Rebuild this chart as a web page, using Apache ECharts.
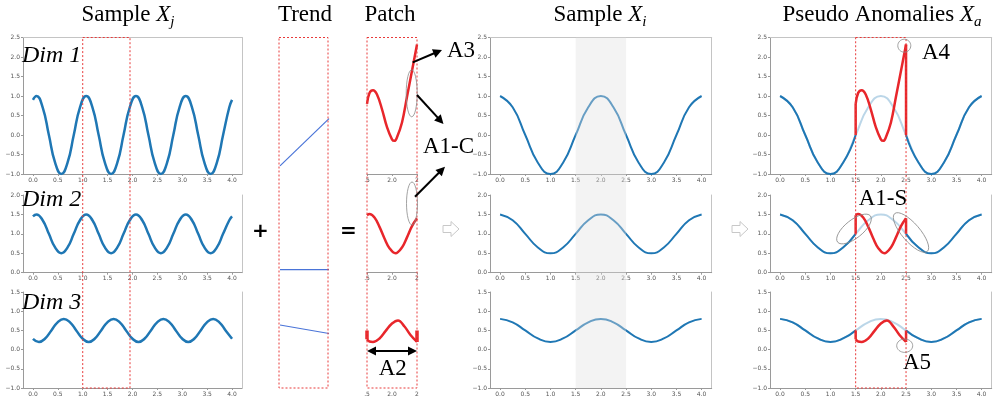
<!DOCTYPE html>
<html><head><meta charset="utf-8">
<script src="https://cdn.jsdelivr.net/npm/echarts@6/dist/echarts.min.js"></script>
<style>html,body{margin:0;padding:0;background:#fff}#c{width:997px;height:399px}</style>
</head><body><div id="c"></div>
<script>
// ---------------- data ----------------
const xTicks = [0, 0.5, 1, 1.5, 2, 2.5, 3, 3.5, 4];

// Sample X_j
const xjX = [0, 0.07, 0.195, 0.32, 0.445, 0.57, 0.695, 0.82, 0.945, 1.07, 1.195, 1.32, 1.445, 1.57, 1.695, 1.82, 1.945,
  2.07, 2.195, 2.32, 2.445, 2.57, 2.695, 2.82, 2.945, 3.07, 3.195, 3.32, 3.445, 3.57, 3.695, 3.82, 3.945, 4.0];
const xjDim1 = [0.9, 1, 0.71, 0, -0.71, -1, -0.71, 0, 0.71, 1, 0.71, 0, -0.71, -1, -0.71, 0, 0.71,
  1, 0.71, 0, -0.71, -1, -0.71, 0, 0.71, 1, 0.71, 0, -0.71, -1, -0.71, 0, 0.71, 0.9];
const xjDim2 = [1.45, 1.5, 1.35, 1.0, 0.65, 0.5, 0.65, 1.0, 1.35, 1.5, 1.35, 1.0, 0.65, 0.5, 0.65, 1.0, 1.35,
  1.5, 1.35, 1.0, 0.65, 0.5, 0.65, 1.0, 1.35, 1.5, 1.35, 1.0, 0.65, 0.5, 0.65, 1.0, 1.35, 1.45];
const xj3X = [0, 0.12, 0.245, 0.37, 0.495, 0.62, 0.745, 0.87, 0.995, 1.12, 1.245, 1.37, 1.495, 1.62, 1.745, 1.87, 1.995,
  2.12, 2.245, 2.37, 2.495, 2.62, 2.745, 2.87, 2.995, 3.12, 3.245, 3.37, 3.495, 3.62, 3.745, 3.87, 4.0];
const xjDim3 = [0.28, 0.2, 0.29, 0.5, 0.71, 0.8, 0.71, 0.5, 0.29, 0.2, 0.29, 0.5, 0.71, 0.8, 0.71, 0.5, 0.29,
  0.2, 0.29, 0.5, 0.71, 0.8, 0.71, 0.5, 0.29, 0.2, 0.29, 0.5, 0.71, 0.8, 0.71, 0.5, 0.28];

// Trend
const trendX = [0, 1];
const trendDim1 = [-0.79, 0.42];
const trendDim2 = [0.08, 0.08];
const trendDim3 = [0.64, 0.42];

// Sample X_i
const xiX = [0, 0.25, 0.5, 0.75, 1, 1.25, 1.5, 1.75, 2, 2.25, 2.5, 2.75, 3, 3.25, 3.5, 3.75, 4];
const xiDim1 = [1, 0.71, 0, -0.71, -1, -0.71, 0, 0.71, 1, 0.71, 0, -0.71, -1, -0.71, 0, 0.71, 1];
const xiDim2 = [1.5, 1.35, 1, 0.65, 0.5, 0.65, 1, 1.35, 1.5, 1.35, 1, 0.65, 0.5, 0.65, 1, 1.35, 1.5];
const xiDim3 = [0.8, 0.71, 0.5, 0.29, 0.2, 0.29, 0.5, 0.71, 0.8, 0.71, 0.5, 0.29, 0.2, 0.29, 0.5, 0.71, 0.8];
const shadeRange = [1.5, 2.5];

// Patch / pseudo anomalies (window 1.5 .. 2.5)
const anomX1 = [1.5, 1.55, 1.62, 1.7, 1.8, 1.9, 2.0, 2.05, 2.1, 2.2, 2.3, 2.4, 2.5];
const anomDim1 = [0.8, 1.08, 1.15, 1.04, 0.66, 0.2, -0.11, -0.15, -0.06, 0.32, 0.98, 1.65, 2.32];
const anomX2 = [1.5, 1.55, 1.65, 1.75, 1.85, 1.95, 2.07, 2.2, 2.3, 2.4, 2.5];
const anomDim2 = [1.48, 1.51, 1.42, 1.18, 0.88, 0.63, 0.5, 0.65, 0.91, 1.2, 1.4];
const anomX3 = [1.5, 1.55, 1.62, 1.75, 1.87, 2.0, 2.12, 2.25, 2.37, 2.5];
const anomDim3 = [0.27, 0.21, 0.2, 0.29, 0.48, 0.68, 0.76, 0.6, 0.38, 0.2];
const anomEdgeX = [1.5, 2.5];
const anomDim1Edge = [[0, 0.8], [2.32, 0]];
const anomDim2Edge = [[1.0, 1.48], [1.4, 1.0]];
const anomDim3Edge = [[0.5, 0.27], [0.2, 0.5]];
const sourceWindow = [1.0, 1.95];

// ---------------- layout ----------------
const panels = [
  {key: 'J', left: 23, right: 242, x: [-0.2, 4.2]},
  {key: 'T', left: 280, right: 329, x: [0, 1]},
  {key: 'P', left: 367, right: 417, x: [1.5, 2.5]},
  {key: 'I', left: 490, right: 711.7, x: [-0.2, 4.2]},
  {key: 'A', left: 770, right: 991.7, x: [-0.2, 4.2]}
];
const rows = [
  {top: 37.5, bottom: 174, y: [-1, 2.5]},
  {top: 195, bottom: 272.7, y: [0, 2]},
  {top: 292, bottom: 388, y: [-1, 1.5]}
];
const BLUE = '#1f77b4', LIGHT = 'rgba(31,119,180,0.3)', RED = '#e8262b', TBLUE = '#4a74d8';
const SPINE = '#9a9a9a';
const fmt = v => (v < 0 ? '\u2212' : '') + Math.abs(v).toFixed(1);
const patchFmt = v => v === 1.5 ? '.5' : (v === 2 ? '2.0' : '2');
const zip = (xs, ys) => xs.map((x, i) => [x, ys[i]]);

const grid = [], xAxis = [], yAxis = [], series = [];
const extraX = [], extraY = [];
panels.forEach((p, pi) => {
  rows.forEach((r, ri) => {
    const g = pi * 3 + ri;
    grid.push({left: p.left, top: r.top, width: p.right - p.left, height: r.bottom - r.top, outerBoundsMode: 'none', containLabel: false});
    const main = (p.key === 'J' || p.key === 'I' || p.key === 'A');
    if (main) {
      xAxis.push({gridIndex: g, type: 'value', min: p.x[0], max: p.x[1],
        axisLine: {show: true, onZero: false, lineStyle: {color: SPINE, width: 1}},
        axisTick: {show: true, length: 2, customValues: xTicks, lineStyle: {color: SPINE}},
        axisLabel: {show: true, customValues: xTicks, fontSize: 6, color: '#555', margin: 3, fontFamily: 'DejaVu Sans', formatter: fmt},
        splitLine: {show: false}});
      yAxis.push({gridIndex: g, type: 'value', min: r.y[0], max: r.y[1], interval: 0.5,
        axisLine: {show: true, onZero: false, lineStyle: {color: SPINE, width: 1}},
        axisTick: {show: true, length: 2, lineStyle: {color: SPINE}},
        axisLabel: {show: true, fontSize: 6, color: '#555', margin: 3, fontFamily: 'DejaVu Sans', formatter: fmt},
        splitLine: {show: false}});
      extraY.push({gridIndex: g, type: 'value', position: 'right', min: r.y[0], max: r.y[1],
        axisLine: {show: true, onZero: false, lineStyle: {color: '#c4c4c4', width: 1}},
        axisTick: {show: false}, axisLabel: {show: false}, splitLine: {show: false}});
      if (ri === 0) extraX.push({gridIndex: g, type: 'value', position: 'top', min: p.x[0], max: p.x[1],
        axisLine: {show: true, onZero: false, lineStyle: {color: '#c4c4c4', width: 1}},
        axisTick: {show: false}, axisLabel: {show: false}, splitLine: {show: false}});
    } else if (p.key === 'P') {
      xAxis.push({gridIndex: g, type: 'value', min: p.x[0], max: p.x[1], interval: 0.5,
        axisLine: {show: ri < 2, onZero: false, lineStyle: {color: SPINE, width: 1}},
        axisTick: {show: ri < 2, length: 2, lineStyle: {color: SPINE}},
        axisLabel: {show: true, fontSize: 6, color: '#555', margin: 3, fontFamily: 'DejaVu Sans', formatter: patchFmt},
        splitLine: {show: false}});
      yAxis.push({gridIndex: g, type: 'value', min: r.y[0], max: r.y[1], show: false});
    } else {
      xAxis.push({gridIndex: g, type: 'value', min: p.x[0], max: p.x[1], show: false});
      yAxis.push({gridIndex: g, type: 'value', min: r.y[0], max: r.y[1], show: false});
    }
  });
});

function line(g, data, color, width, opts) {
  series.push(Object.assign({type: 'line', xAxisIndex: g, yAxisIndex: g, data: data, showSymbol: false, symbol: 'none',
    lineStyle: {color: color, width: width}, itemStyle: {color: color}, smooth: false, animation: false, silent: true, z: 3}, opts || {}));
}
// Sample X_j
line(0, zip(xjX, xjDim1), BLUE, 2.5, {smooth: 0.5});
line(1, zip(xjX, xjDim2), BLUE, 2.5, {smooth: 0.5});
line(2, zip(xj3X, xjDim3), BLUE, 2.5, {smooth: 0.5});
// Trend
line(3, zip(trendX, trendDim1), TBLUE, 1.2);
line(4, zip(trendX, trendDim2), TBLUE, 1.2);
line(5, zip(trendX, trendDim3), TBLUE, 1.2);
// Patch
line(6, zip(anomX1, anomDim1), RED, 2.5, {smooth: 0.4, clip: false});
line(7, zip(anomX2, anomDim2), RED, 2.5, {smooth: 0.4, clip: false});
line(8, zip(anomX3, anomDim3), RED, 2.5, {smooth: 0.4, clip: false});
line(8, [[anomEdgeX[0], anomDim3Edge[0][0]], [anomEdgeX[0], anomDim3Edge[0][1]]], RED, 3.5, {clip: false});
line(8, [[anomEdgeX[1], anomDim3Edge[1][0]], [anomEdgeX[1], anomDim3Edge[1][1]]], RED, 3.5, {clip: false});
// Sample X_i
const xiDims = [xiDim1, xiDim2, xiDim3];
xiDims.forEach((d, i) => line(9 + i, zip(xiX, d), BLUE, 2, {smooth: 0.5}));
// Pseudo anomalies
const anomXs = [anomX1, anomX2, anomX3], anomDims = [anomDim1, anomDim2, anomDim3];
const anomEdges = [anomDim1Edge, anomDim2Edge, anomDim3Edge];
xiDims.forEach((d, i) => {
  const g = 12 + i;
  const pts = zip(xiX, d);
  line(g, pts, LIGHT, 2, {smooth: 0.5});
  line(g, pts.filter(p => p[0] <= shadeRange[0]), BLUE, 2, {smooth: 0.5});
  line(g, pts.filter(p => p[0] >= shadeRange[1]), BLUE, 2, {smooth: 0.5});
  line(g, zip(anomXs[i], anomDims[i]), RED, 2.5, {smooth: 0.4, z: 4});
  line(g, [[anomEdgeX[0], anomEdges[i][0][0]], [anomEdgeX[0], anomEdges[i][0][1]]], RED, 2.5, {z: 4});
  line(g, [[anomEdgeX[1], anomEdges[i][1][0]], [anomEdgeX[1], anomEdges[i][1][1]]], RED, 2.5, {z: 4});
});

const option = {
  animation: false,
  backgroundColor: '#fff',
  grid: grid,
  xAxis: xAxis.concat(extraX),
  yAxis: yAxis.concat(extraY),
  series: series
};
const chart = echarts.init(document.getElementById('c'), null, {renderer: 'canvas'});
chart.setOption(option);

// ---------------- annotations ----------------
const mctx = document.createElement('canvas').getContext('2d');
const SERIF = 'Liberation Serif';
function tw(s, font) { mctx.font = font; return mctx.measureText(s).width; }
function txt(x, y, s, o) {
  o = o || {};
  return {type: 'text', x: x, y: y, z: 120, silent: true, style: {text: s, fill: o.fill || '#000', fontSize: o.size || 23,
    fontFamily: o.family || SERIF, fontStyle: o.style || 'normal', fontWeight: o.weight || 'normal',
    align: o.align || 'center', verticalAlign: 'middle'}};
}
function title(cx, main, ital, sub) {
  const w1 = tw(main, '23px "' + SERIF + '"');
  const w2 = ital ? tw(ital, 'italic 23px "' + SERIF + '"') : 0;
  const w3 = sub ? tw(sub, 'italic 15px "' + SERIF + '"') : 0;
  const x0 = cx - (w1 + w2 + w3) / 2;
  const els = [txt(x0, 15, main, {align: 'left'})];
  if (ital) els.push(txt(x0 + w1, 15, ital, {align: 'left', style: 'italic'}));
  if (sub) els.push(txt(x0 + w1 + w2, 22, sub, {align: 'left', style: 'italic', size: 15}));
  return els;
}
function arrowEls(x1, y1, x2, y2, both) {
  const L = 9, W = 4.5;
  const dx = x2 - x1, dy = y2 - y1, len = Math.hypot(dx, dy), ux = dx / len, uy = dy / len;
  const head = (px, py, ux, uy) => ({type: 'polygon', z: 120, silent: true,
    shape: {points: [[px, py], [px - ux * L - uy * W, py - uy * L + ux * W], [px - ux * L + uy * W, py - uy * L - ux * W]]},
    style: {fill: '#000'}});
  const sx = both ? x1 + ux * L * 0.8 : x1, sy = both ? y1 + uy * L * 0.8 : y1;
  const els = [{type: 'line', z: 120, silent: true, shape: {x1: sx, y1: sy, x2: x2 - ux * L * 0.8, y2: y2 - uy * L * 0.8},
    style: {stroke: '#000', lineWidth: 2}}, head(x2, y2, ux, uy)];
  if (both) els.push(head(x1, y1, -ux, -uy));
  return els;
}
function ell(cx, cy, rx, ry, rot) {
  return {type: 'ellipse', x: cx, y: cy, rotation: rot || 0, z: 120, silent: true,
    shape: {cx: 0, cy: 0, rx: rx, ry: ry}, style: {fill: 'none', stroke: '#8a8a8a', lineWidth: 0.8}};
}
function dashRect(x1, y1, x2, y2) {
  return {type: 'rect', z: 110, silent: true, shape: {x: x1, y: y1, width: x2 - x1, height: y2 - y1},
    style: {fill: 'none', stroke: '#e83a3a', lineWidth: 1, lineDash: [2, 2]}};
}
function hollowArrow(x0, yc) {
  return {type: 'polygon', z: 120, silent: true,
    shape: {points: [[x0, yc - 3.5], [x0 + 8, yc - 3.5], [x0 + 8, yc - 7.5], [x0 + 16, yc], [x0 + 8, yc + 7.5], [x0 + 8, yc + 3.5], [x0, yc + 3.5]]},
    style: {fill: '#fff', stroke: '#c8c8c8', lineWidth: 1}};
}
const px = (g, x, y) => chart.convertToPixel({xAxisIndex: g, yAxisIndex: g}, [x, y]);

const topY = px(0, 0, rows[0].y[1])[1];
const botY = px(2, 0, rows[2].y[0])[1];
const jA = px(0, sourceWindow[0], 0)[0], jB = px(0, sourceWindow[1], 0)[0];
const iA = px(9, shadeRange[0], 0)[0], iB = px(9, shadeRange[1], 0)[0];
const aA = px(12, shadeRange[0], 0)[0], aB = px(12, shadeRange[1], 0)[0];

let g = [];
g.push({type: 'rect', z: 100, silent: true, shape: {x: iA, y: topY, width: iB - iA, height: botY - topY},
  style: {fill: 'rgba(224,224,224,0.38)'}});
g.push(dashRect(jA, topY, jB, botY));
g.push(dashRect(279, topY, 328, botY));
g.push(dashRect(367, topY, 417, botY));
g.push(dashRect(aA, topY, aB, botY));
g = g.concat(title(128, 'Sample ', 'X', 'j'));
g.push(txt(305, 15, 'Trend'));
g.push(txt(390, 15, 'Patch'));
g = g.concat(title(600, 'Sample ', 'X', 'i'));
g = g.concat(title(882, 'Pseudo Anomalies ', 'X', 'a'));
g.push(txt(22, 56, 'Dim 1', {align: 'left', style: 'italic', size: 24}));
g.push(txt(22, 200, 'Dim 2', {align: 'left', style: 'italic', size: 24}));
g.push(txt(22, 303, 'Dim 3', {align: 'left', style: 'italic', size: 24}));
g.push(txt(260.5, 232, '+', {family: 'DejaVu Sans', weight: 'bold', size: 20}));
g.push(txt(348.5, 232, '=', {family: 'DejaVu Sans', weight: 'bold', size: 20}));
g.push(hollowArrow(443, 229));
g.push(hollowArrow(732, 229));
// left annotations
g.push(ell(411.7, 93.3, 5.5, 23.5));
g.push(ell(412, 203.5, 5.5, 21.5));
g = g.concat(arrowEls(412.7, 62.3, 442, 50));
g = g.concat(arrowEls(417, 95, 443.5, 124));
g = g.concat(arrowEls(415, 196.7, 445, 166.7));
g = g.concat(arrowEls(367, 351, 417, 351, true));
g.push(txt(461, 50.5, 'A3'));
g.push(txt(448.5, 147, 'A1-C'));
g.push(txt(392.7, 369, 'A2'));
// right annotations
g.push(ell(904.3, 45.7, 6.5, 6.5));
g.push(ell(854, 229, 21, 9, 0.675));
g.push(ell(911, 232.5, 25, 9, -0.86));
g.push(ell(904.7, 345.7, 8, 6.7));
g.push(txt(936, 53.3, 'A4'));
g.push(txt(883, 199, 'A1-S'));
g.push(txt(917, 363.3, 'A5'));

chart.setOption({graphic: {elements: g}});
</script></body></html>
